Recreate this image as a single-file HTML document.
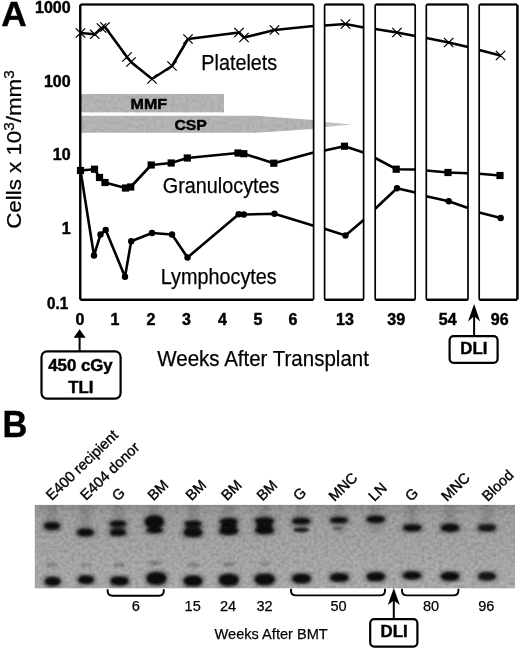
<!DOCTYPE html>
<html lang="en"><head><meta charset="utf-8"><title>Figure: blood counts after transplant and chimerism gel</title>
<style>html,body{margin:0;padding:0;background:#fff}body{width:520px;height:649px;overflow:hidden}svg{display:block}text{font-family:"Liberation Sans", Arial, Helvetica, sans-serif;fill:#000;stroke:#000;stroke-width:.25}.b{font-weight:bold;stroke-width:.45}.ln{fill:none;stroke:#000;stroke-width:2.6;stroke-linejoin:round;stroke-linecap:butt}.bx{fill:none;stroke:#000;stroke-width:2.2}.x{stroke:#000;stroke-width:1.3;fill:none}</style></head><body>
<svg width="520" height="649" viewBox="0 0 520 649">
<defs><filter id="soft" x="0" y="0" width="100%" height="100%" filterUnits="userSpaceOnUse"><feGaussianBlur stdDeviation="0.45"/></filter><filter id="bl" x="-30%" y="-60%" width="160%" height="220%"><feGaussianBlur stdDeviation="1.3 1.1"/></filter><filter id="bf" x="-30%" y="-60%" width="160%" height="220%"><feGaussianBlur stdDeviation="2.2 1.8"/></filter><filter id="nz" x="0" y="0" width="100%" height="100%"><feTurbulence type="fractalNoise" baseFrequency="0.28" numOctaves="3" seed="11" result="n"/><feColorMatrix in="n" type="matrix" values="0 0 0 0 0  0 0 0 0 0  0 0 0 0 0  1.3 0 0 0 -0.45"/><feGaussianBlur stdDeviation="0.7"/></filter><linearGradient id="gg" x1="0" y1="0" x2="0" y2="1"><stop offset="0" stop-color="#949494"/><stop offset=".15" stop-color="#a3a3a3"/><stop offset="1" stop-color="#b0b0b0"/></linearGradient><clipPath id="cc"><polygon points="80.6,115.8 255.6,115.8 313.6,120 313.6,128.9 255.6,132.8 80.6,132.8"/></clipPath><clipPath id="gc"><rect x="34.8" y="504.9" width="480.2" height="83.4"/></clipPath></defs>
<rect width="520" height="649" fill="#fff"/>
<g filter="url(#soft)">
<rect x="80.6" y="94" width="143.4" height="18.3" fill="#b7b7b7"/>
<polygon points="80.6,115.8 255.6,115.8 313.6,120 313.6,128.9 255.6,132.8 80.6,132.8" fill="#b7b7b7"/>
<polygon points="324.6,121.9 351.5,124.4 324.6,127" fill="#c2c2c2"/>
<rect x="80.6" y="94" width="143.4" height="18.3" filter="url(#nz)" opacity=".12"/>
<g clip-path="url(#cc)"><rect x="80.6" y="115.8" width="233" height="17" filter="url(#nz)" opacity=".12"/></g>
<text class="b" x="130.6" y="108.6" font-size="15.2" textLength="36.4" lengthAdjust="spacingAndGlyphs">MMF</text>
<text class="b" x="174.4" y="129.6" font-size="15.2" textLength="32.5" lengthAdjust="spacingAndGlyphs">CSP</text>
<polyline class="ln" points="80.5,33.0 94.8,34.3 101.5,28.0 105.0,27.0 127.0,57.0 131.0,62.0 152.0,79.0 172.0,66.0 188.0,39.0 239.0,32.5 244.0,37.5 274.5,30.0 313.6,26.0"/>
<polyline class="ln" points="324.6,25.5 345.5,24.0 363.6,27.5"/>
<polyline class="ln" points="375.2,29.0 397.0,32.5 415.2,36.0"/>
<polyline class="ln" points="426.3,38.0 448.7,42.5 468.0,47.0"/>
<polyline class="ln" points="479.2,50.0 500.5,55.5"/>
<polyline class="ln" points="80.5,170.5 94.5,169.2 99.5,177.5 105.0,182.5 125.5,188.0 130.7,187.0 151.2,165.0 171.2,163.0 187.3,158.0 238.0,153.0 243.8,153.7 273.8,163.2 313.6,152.5"/>
<polyline class="ln" points="324.6,150.5 344.5,146.2 363.6,152.5"/>
<polyline class="ln" points="375.2,158.0 396.2,169.2 415.2,169.5"/>
<polyline class="ln" points="426.3,170.5 448.0,172.5 468.0,173.2"/>
<polyline class="ln" points="479.2,173.7 500.0,175.5"/>
<polyline class="ln" points="80.5,170.5 94.0,255.5 100.5,234.5 105.7,230.0 125.0,276.7 131.2,241.2 152.0,233.0 172.0,234.5 187.5,257.5 238.7,214.2 243.8,214.5 274.5,213.7 313.6,225.7"/>
<polyline class="ln" points="324.6,228.7 345.5,235.5 363.6,220.0"/>
<polyline class="ln" points="375.2,208.7 397.0,188.2 415.2,192.5"/>
<polyline class="ln" points="426.3,196.2 448.7,201.2 468.0,208.0"/>
<polyline class="ln" points="479.2,212.5 500.7,218.0"/>
<path class="x" d="M75.8 28.4L85.2 37.6M75.8 37.6L85.2 28.4M90.1 29.7L99.5 38.9M90.1 38.9L99.5 29.7M96.8 23.4L106.2 32.6M96.8 32.6L106.2 23.4M100.3 22.4L109.7 31.6M100.3 31.6L109.7 22.4M122.3 52.4L131.7 61.6M122.3 61.6L131.7 52.4M126.3 57.4L135.7 66.6M126.3 66.6L135.7 57.4M147.3 74.4L156.7 83.6M147.3 83.6L156.7 74.4M167.3 61.4L176.7 70.6M167.3 70.6L176.7 61.4M183.3 34.4L192.7 43.6M183.3 43.6L192.7 34.4M234.3 27.9L243.7 37.1M234.3 37.1L243.7 27.9M239.3 32.9L248.7 42.1M239.3 42.1L248.7 32.9M269.8 25.4L279.2 34.6M269.8 34.6L279.2 25.4M340.8 19.4L350.2 28.6M340.8 28.6L350.2 19.4M392.3 27.9L401.7 37.1M392.3 37.1L401.7 27.9M444.0 37.9L453.4 47.1M444.0 47.1L453.4 37.9M495.8 50.9L505.2 60.1M495.8 60.1L505.2 50.9"/>
<rect x="76.9" y="166.9" width="7.2" height="7.2"/>
<rect x="90.9" y="165.6" width="7.2" height="7.2"/>
<rect x="95.9" y="173.9" width="7.2" height="7.2"/>
<rect x="101.4" y="178.9" width="7.2" height="7.2"/>
<rect x="121.9" y="184.4" width="7.2" height="7.2"/>
<rect x="127.1" y="183.4" width="7.2" height="7.2"/>
<rect x="147.6" y="161.4" width="7.2" height="7.2"/>
<rect x="167.6" y="159.4" width="7.2" height="7.2"/>
<rect x="183.7" y="154.4" width="7.2" height="7.2"/>
<rect x="234.4" y="149.4" width="7.2" height="7.2"/>
<rect x="240.2" y="150.1" width="7.2" height="7.2"/>
<rect x="270.2" y="159.6" width="7.2" height="7.2"/>
<rect x="340.9" y="142.6" width="7.2" height="7.2"/>
<rect x="392.6" y="165.6" width="7.2" height="7.2"/>
<rect x="444.4" y="168.9" width="7.2" height="7.2"/>
<rect x="496.4" y="171.9" width="7.2" height="7.2"/>
<circle cx="94.0" cy="255.5" r="3.2"/>
<circle cx="100.5" cy="234.5" r="3.2"/>
<circle cx="105.7" cy="230.0" r="3.2"/>
<circle cx="125.0" cy="276.7" r="3.2"/>
<circle cx="131.2" cy="241.2" r="3.2"/>
<circle cx="152.0" cy="233.0" r="3.2"/>
<circle cx="172.0" cy="234.5" r="3.2"/>
<circle cx="187.5" cy="257.5" r="3.2"/>
<circle cx="238.7" cy="214.2" r="3.2"/>
<circle cx="243.8" cy="214.5" r="3.2"/>
<circle cx="274.5" cy="213.7" r="3.2"/>
<circle cx="345.5" cy="235.5" r="3.2"/>
<circle cx="397.0" cy="188.2" r="3.2"/>
<circle cx="448.7" cy="201.2" r="3.2"/>
<circle cx="500.7" cy="218.0" r="3.2"/>
<rect class="bx" x="80.2" y="4.5" width="233.4" height="295.2" rx="1" style="stroke-width:1.7"/>
<path class="bx" style="stroke-width:2.2" d="M80.7 4.5H313.1M80.7 299.8H313.1"/>
<rect class="bx" x="324.6" y="4.5" width="39.0" height="295.2" rx="1" style="stroke-width:1.7"/>
<path class="bx" style="stroke-width:2.2" d="M325.1 4.5H363.1M325.1 299.8H363.1"/>
<rect class="bx" x="375.2" y="4.5" width="40.0" height="295.2" rx="1" style="stroke-width:1.7"/>
<path class="bx" style="stroke-width:2.2" d="M375.7 4.5H414.7M375.7 299.8H414.7"/>
<rect class="bx" x="426.3" y="4.5" width="41.7" height="295.2" rx="1" style="stroke-width:1.7"/>
<path class="bx" style="stroke-width:2.2" d="M426.8 4.5H467.5M426.8 299.8H467.5"/>
<rect class="bx" x="479.2" y="4.5" width="38.1" height="295.2" rx="1" style="stroke-width:1.7"/>
<path class="bx" style="stroke-width:2.2" d="M479.7 4.5H516.8M479.7 299.8H516.8"/>
<path class="bx" style="stroke-width:2.3" d="M80.3 5.0V299.2"/>
<path class="bx" style="stroke-width:2.3" d="M517.5 5.0V299.2"/>
<text x="201.3" y="69.5" font-size="21.5" textLength="75.9" lengthAdjust="spacingAndGlyphs">Platelets</text>
<text x="162.8" y="192.5" font-size="21.5" textLength="116.7" lengthAdjust="spacingAndGlyphs">Granulocytes</text>
<text x="160.8" y="283.7" font-size="21.5" textLength="115.9" lengthAdjust="spacingAndGlyphs">Lymphocytes</text>
<text class="b" x="1.2" y="25.6" font-size="35.3">A</text>
<text class="b" x="2.5" y="437.3" font-size="36.6" textLength="24.8" lengthAdjust="spacingAndGlyphs">B</text>
<text class="b" x="35.0" y="13.3" font-size="16" textLength="35.6" lengthAdjust="spacingAndGlyphs">1000</text>
<text class="b" x="43.9" y="86.8" font-size="16" textLength="26.7" lengthAdjust="spacingAndGlyphs">100</text>
<text class="b" x="52.8" y="160.3" font-size="16" textLength="17.8" lengthAdjust="spacingAndGlyphs">10</text>
<text class="b" x="61.7" y="234.3" font-size="16" textLength="8.9" lengthAdjust="spacingAndGlyphs">1</text>
<text class="b" x="47.1" y="309.0" font-size="16" textLength="21.1" lengthAdjust="spacingAndGlyphs">0.1</text>
<text class="b" x="75.6" y="325.0" font-size="16" textLength="8.9" lengthAdjust="spacingAndGlyphs">0</text>
<text class="b" x="110.6" y="325.0" font-size="16" textLength="8.9" lengthAdjust="spacingAndGlyphs">1</text>
<text class="b" x="146.6" y="325.0" font-size="16" textLength="8.9" lengthAdjust="spacingAndGlyphs">2</text>
<text class="b" x="182.1" y="325.0" font-size="16" textLength="8.9" lengthAdjust="spacingAndGlyphs">3</text>
<text class="b" x="218.1" y="325.0" font-size="16" textLength="8.9" lengthAdjust="spacingAndGlyphs">4</text>
<text class="b" x="253.6" y="325.0" font-size="16" textLength="8.9" lengthAdjust="spacingAndGlyphs">5</text>
<text class="b" x="288.6" y="325.0" font-size="16" textLength="8.9" lengthAdjust="spacingAndGlyphs">6</text>
<text class="b" x="336.1" y="325.0" font-size="16" textLength="17.8" lengthAdjust="spacingAndGlyphs">13</text>
<text class="b" x="387.3" y="325.0" font-size="16" textLength="17.8" lengthAdjust="spacingAndGlyphs">39</text>
<text class="b" x="438.8" y="325.0" font-size="16" textLength="17.8" lengthAdjust="spacingAndGlyphs">54</text>
<text class="b" x="490.8" y="325.0" font-size="16" textLength="17.8" lengthAdjust="spacingAndGlyphs">96</text>
<g transform="translate(20.5 228.8) scale(1 1.095) rotate(-90)"><text x="0" y="0" font-size="20.4">Cells x 10<tspan font-size="14" dy="-7">3</tspan><tspan dy="7">/mm</tspan><tspan font-size="14" dy="-7">3</tspan></text></g>
<text x="157.3" y="366.3" font-size="21.5" textLength="211.6" lengthAdjust="spacingAndGlyphs">Weeks After Transplant</text>
<rect class="bx" x="41.5" y="351.4" width="79.1" height="47.2" rx="5.5"/>
<path d="M79.6 351V336" class="ln" style="stroke-width:2"/><path d="M79.6 329.2L85.6 337.8H73.6Z"/>
<text class="b" x="48.2" y="370.6" font-size="16.5" textLength="64.5" lengthAdjust="spacingAndGlyphs">450 cGy</text>
<text class="b" x="68.2" y="392.5" font-size="16.5" textLength="25.2" lengthAdjust="spacingAndGlyphs">TLI</text>
<rect class="bx" x="449.6" y="336.2" width="48" height="26.6" rx="4"/>
<path d="M474.1 336V314" class="ln" style="stroke-width:2"/><path d="M474.1 304L480.2 321.4L474.1 316.2L468 321.4Z"/>
<text class="b" x="460.3" y="353.8" font-size="16.5" textLength="27.1" lengthAdjust="spacingAndGlyphs">DLI</text>
<text transform="translate(51.8 501.1) rotate(-44)" font-size="14.6" style="stroke-width:.4">E400 recipient</text>
<text transform="translate(86.1 500.9) rotate(-44)" font-size="14.6" style="stroke-width:.4">E404 donor</text>
<text transform="translate(117.8 501.8) rotate(-44)" font-size="14.6" style="stroke-width:.4">G</text>
<text transform="translate(153.5 501.2) rotate(-44)" font-size="14.6" style="stroke-width:.4">BM</text>
<text transform="translate(191.5 501.2) rotate(-44)" font-size="14.6" style="stroke-width:.4">BM</text>
<text transform="translate(227.0 501.2) rotate(-44)" font-size="14.6" style="stroke-width:.4">BM</text>
<text transform="translate(262.5 501.4) rotate(-44)" font-size="14.6" style="stroke-width:.4">BM</text>
<text transform="translate(299.0 501.6) rotate(-44)" font-size="14.6" style="stroke-width:.4">G</text>
<text transform="translate(334.5 502.0) rotate(-44)" font-size="14.6" style="stroke-width:.4">MNC</text>
<text transform="translate(374.3 502.0) rotate(-44)" font-size="14.6" style="stroke-width:.4">LN</text>
<text transform="translate(411.0 502.0) rotate(-44)" font-size="14.6" style="stroke-width:.4">G</text>
<text transform="translate(447.0 502.0) rotate(-44)" font-size="14.6" style="stroke-width:.4">MNC</text>
<text transform="translate(487.7 502.0) rotate(-44)" font-size="14.6" style="stroke-width:.4">Blood</text>
<rect x="34.8" y="504.9" width="480.2" height="83.4" fill="url(#gg)"/>
<g clip-path="url(#gc)">
<g filter="url(#bf)" fill="#505050" opacity=".22">
<rect x="46.5" y="503" width="11" height="30"/>
<rect x="80.0" y="503" width="11" height="30"/>
<rect x="113.2" y="503" width="11" height="30"/>
<rect x="149.0" y="503" width="11" height="30"/>
<rect x="187.5" y="503" width="11" height="30"/>
<rect x="223.2" y="503" width="11" height="30"/>
<rect x="259.0" y="503" width="11" height="30"/>
<rect x="295.7" y="503" width="11" height="30"/>
<rect x="334.0" y="503" width="11" height="30"/>
<rect x="370.1" y="503" width="11" height="30"/>
<rect x="406.5" y="503" width="11" height="30"/>
<rect x="444.5" y="503" width="11" height="30"/>
<rect x="481.4" y="503" width="11" height="30"/>
</g>
<g filter="url(#bf)" fill="#2a2a2a" opacity=".46">
<rect x="42.5" y="520.8" width="19.0" height="10.5" rx="3.8"/>
<rect x="43.0" y="575.4" width="19.3" height="12.0" rx="4.5"/>
<rect x="75.5" y="527.4" width="20.0" height="10.5" rx="3.8"/>
<rect x="76.5" y="574.0" width="19.0" height="11.5" rx="4.2"/>
<rect x="108.2" y="519.3" width="19.5" height="9.0" rx="3.0"/>
<rect x="108.2" y="527.8" width="19.5" height="9.6" rx="3.3"/>
<rect x="108.8" y="575.0" width="21.5" height="12.0" rx="4.5"/>
<rect x="143.2" y="514.0" width="22.2" height="16.0" rx="6.5"/>
<rect x="144.8" y="526.0" width="19.5" height="8.5" rx="2.8"/>
<rect x="144.8" y="570.4" width="23.3" height="16.0" rx="6.5"/>
<rect x="183.0" y="519.5" width="20.0" height="8.5" rx="2.8"/>
<rect x="182.0" y="526.5" width="22.0" height="12.0" rx="4.5"/>
<rect x="182.0" y="573.9" width="22.0" height="14.0" rx="5.5"/>
<rect x="218.2" y="516.8" width="21.0" height="10.5" rx="3.8"/>
<rect x="217.7" y="525.0" width="22.0" height="11.5" rx="4.2"/>
<rect x="217.3" y="572.4" width="23.0" height="15.0" rx="6.0"/>
<rect x="253.5" y="516.0" width="22.0" height="10.5" rx="3.8"/>
<rect x="253.5" y="524.7" width="22.0" height="11.0" rx="4.0"/>
<rect x="252.9" y="572.1" width="23.5" height="14.5" rx="5.8"/>
<rect x="290.7" y="516.5" width="21.0" height="9.5" rx="3.2"/>
<rect x="290.5" y="572.4" width="22.0" height="12.5" rx="4.8"/>
<rect x="328.6" y="515.8" width="20.5" height="8.8" rx="2.9"/>
<rect x="328.4" y="571.7" width="21.8" height="11.6" rx="4.3"/>
<rect x="364.9" y="514.4" width="21.5" height="9.8" rx="3.4"/>
<rect x="365.1" y="570.8" width="21.5" height="12.0" rx="4.5"/>
<rect x="401.6" y="522.9" width="21.5" height="9.8" rx="3.4"/>
<rect x="401.2" y="570.0" width="21.5" height="11.0" rx="4.0"/>
<rect x="439.2" y="522.4" width="21.5" height="10.8" rx="3.9"/>
<rect x="439.2" y="570.5" width="21.5" height="11.8" rx="4.4"/>
<rect x="476.5" y="522.9" width="20.8" height="9.8" rx="3.4"/>
<rect x="476.5" y="570.8" width="20.8" height="11.2" rx="4.1"/>
</g>
<g filter="url(#bl)" fill="#080808">
<rect x="44.3" y="522.5" width="15.4" height="6.9" rx="6.6" ry="3.5" opacity="1"/>
<rect x="44.8" y="577.2" width="15.7" height="8.4" rx="6.8" ry="4.2" opacity="1"/>
<rect x="46.3" y="562.8" width="11.4" height="4.4" rx="4.9" ry="2.2" opacity="0.22"/>
<rect x="77.3" y="529.1" width="16.4" height="6.9" rx="7.1" ry="3.5" opacity="1"/>
<rect x="78.3" y="575.8" width="15.4" height="7.9" rx="6.6" ry="4.0" opacity="1"/>
<rect x="79.8" y="562.8" width="11.4" height="4.4" rx="4.9" ry="2.2" opacity="0.14"/>
<rect x="110.0" y="521.1" width="15.9" height="5.4" rx="6.8" ry="2.7" opacity="1"/>
<rect x="110.0" y="529.6" width="15.9" height="6.0" rx="6.8" ry="3.0" opacity="1"/>
<rect x="111.0" y="526.5" width="13.9" height="3.4" rx="6.0" ry="1.7" opacity="0.4"/>
<rect x="110.5" y="576.8" width="17.9" height="8.4" rx="7.7" ry="4.2" opacity="1"/>
<rect x="113.0" y="562.8" width="11.4" height="4.4" rx="4.9" ry="2.2" opacity="0.22"/>
<rect x="145.0" y="515.8" width="18.6" height="12.4" rx="8.0" ry="6.2" opacity="1"/>
<rect x="146.7" y="527.8" width="15.9" height="4.9" rx="6.8" ry="2.5" opacity="1"/>
<rect x="146.6" y="572.2" width="19.7" height="12.4" rx="8.5" ry="6.2" opacity="1"/>
<rect x="148.8" y="560.5" width="12.4" height="4.9" rx="5.3" ry="2.5" opacity="0.24"/>
<rect x="184.8" y="521.2" width="16.4" height="4.9" rx="7.1" ry="2.5" opacity="1"/>
<rect x="183.8" y="528.3" width="18.4" height="8.4" rx="7.9" ry="4.2" opacity="1"/>
<rect x="185.1" y="525.6" width="15.9" height="3.9" rx="6.8" ry="1.9" opacity="0.6"/>
<rect x="183.8" y="575.7" width="18.4" height="10.4" rx="7.9" ry="5.2" opacity="1"/>
<rect x="186.8" y="562.8" width="12.4" height="4.4" rx="5.3" ry="2.2" opacity="0.22"/>
<rect x="220.0" y="518.5" width="17.4" height="6.9" rx="7.5" ry="3.5" opacity="1"/>
<rect x="219.5" y="526.8" width="18.4" height="7.9" rx="7.9" ry="4.0" opacity="1"/>
<rect x="220.5" y="524.1" width="16.4" height="4.4" rx="7.1" ry="2.2" opacity="0.8"/>
<rect x="219.1" y="574.2" width="19.4" height="11.4" rx="8.3" ry="5.7" opacity="1"/>
<rect x="222.5" y="562.1" width="12.4" height="4.4" rx="5.3" ry="2.2" opacity="0.24"/>
<rect x="255.3" y="517.8" width="18.4" height="6.9" rx="7.9" ry="3.5" opacity="1"/>
<rect x="255.3" y="526.5" width="18.4" height="7.4" rx="7.9" ry="3.7" opacity="1"/>
<rect x="256.1" y="523.5" width="16.9" height="4.4" rx="7.3" ry="2.2" opacity="0.8"/>
<rect x="254.8" y="573.9" width="19.9" height="10.9" rx="8.6" ry="5.5" opacity="1"/>
<rect x="258.8" y="561.3" width="11.4" height="4.4" rx="4.9" ry="2.2" opacity="0.18"/>
<rect x="292.5" y="518.2" width="17.4" height="5.9" rx="7.5" ry="3.0" opacity="1"/>
<rect x="293.2" y="527.4" width="15.9" height="4.9" rx="6.8" ry="2.5" opacity="0.78"/>
<rect x="292.3" y="574.1" width="18.4" height="8.9" rx="7.9" ry="4.5" opacity="1"/>
<rect x="330.4" y="517.6" width="16.9" height="5.2" rx="7.3" ry="2.6" opacity="1"/>
<rect x="332.6" y="526.6" width="10.4" height="3.4" rx="4.5" ry="1.7" opacity="0.35"/>
<rect x="330.2" y="573.5" width="18.2" height="8.0" rx="7.8" ry="4.0" opacity="1"/>
<rect x="366.7" y="516.2" width="17.9" height="6.2" rx="7.7" ry="3.1" opacity="1"/>
<rect x="366.9" y="572.6" width="17.9" height="8.4" rx="7.7" ry="4.2" opacity="1"/>
<rect x="403.4" y="524.7" width="17.9" height="6.2" rx="7.7" ry="3.1" opacity="1"/>
<rect x="403.1" y="571.8" width="17.9" height="7.4" rx="7.7" ry="3.7" opacity="1"/>
<rect x="441.1" y="524.2" width="17.9" height="7.2" rx="7.7" ry="3.6" opacity="1"/>
<rect x="441.1" y="572.3" width="17.9" height="8.2" rx="7.7" ry="4.1" opacity="1"/>
<rect x="478.3" y="524.7" width="17.2" height="6.2" rx="7.4" ry="3.1" opacity="0.9"/>
<rect x="478.3" y="572.6" width="17.2" height="7.6" rx="7.4" ry="3.8" opacity="0.9"/>
</g>
<rect x="34.8" y="504.9" width="480.2" height="83.4" filter="url(#nz)" opacity=".22"/>
</g>
<path class="x" style="stroke-width:1.9" d="M107.6 589.3V590.8Q107.6 595.8 112.6 595.8H158.8Q163.8 595.8 163.8 590.8V589.3"/>
<path class="x" style="stroke-width:1.9" d="M291.0 588.8V590.4Q291.0 595.4 296.0 595.4H380.0Q385.0 595.4 385.0 590.4V588.8"/>
<path class="x" style="stroke-width:1.9" d="M402.0 588.8V590.4Q402.0 595.4 407.0 595.4H453.4Q458.4 595.4 458.4 590.4V588.8"/>
<text x="131.7" y="610.9" font-size="15.5" textLength="8.1" lengthAdjust="spacingAndGlyphs">6</text>
<text x="184.6" y="610.9" font-size="15.5" textLength="16.2" lengthAdjust="spacingAndGlyphs">15</text>
<text x="220.0" y="610.9" font-size="15.5" textLength="16.2" lengthAdjust="spacingAndGlyphs">24</text>
<text x="256.4" y="610.9" font-size="15.5" textLength="16.2" lengthAdjust="spacingAndGlyphs">32</text>
<text x="330.4" y="610.9" font-size="15.5" textLength="16.2" lengthAdjust="spacingAndGlyphs">50</text>
<text x="422.9" y="610.9" font-size="15.5" textLength="16.2" lengthAdjust="spacingAndGlyphs">80</text>
<text x="478.2" y="610.9" font-size="15.5" textLength="16.2" lengthAdjust="spacingAndGlyphs">96</text>
<text x="214.5" y="639.2" font-size="15.5" textLength="113.3" lengthAdjust="spacingAndGlyphs">Weeks After BMT</text>
<rect class="bx" x="370.2" y="619.2" width="47.2" height="27.4" rx="4"/>
<path d="M393.8 619V599" class="ln" style="stroke-width:2"/><path d="M393.8 588L399.8 605L393.8 600.4L387.8 605Z"/>
<text class="b" x="380.5" y="636.6" font-size="16.5" textLength="27.1" lengthAdjust="spacingAndGlyphs">DLI</text>
</g>
</svg></body></html>
